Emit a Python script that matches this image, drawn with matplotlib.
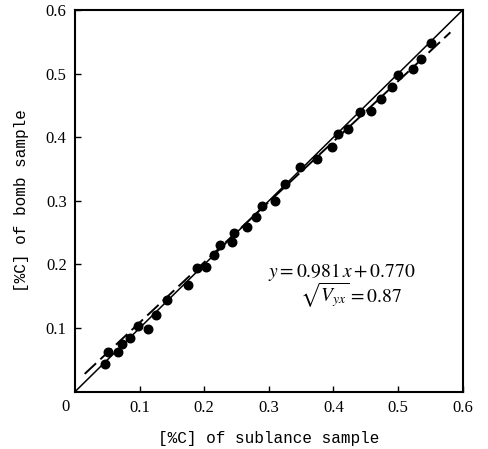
import numpy as np
import matplotlib
matplotlib.use("Agg")
import matplotlib.pyplot as plt

plt.rcParams['font.family'] = ['Liberation Serif', 'DejaVu Serif']
plt.rcParams['mathtext.fontset'] = 'stix'

# [%C] of sublance sample vs [%C] of bomb sample
sublance = [0.046, 0.051, 0.067, 0.073, 0.085, 0.098, 0.113, 0.125, 0.142, 0.175,
            0.189, 0.203, 0.215, 0.224, 0.243, 0.246, 0.266, 0.280, 0.289, 0.310,
            0.325, 0.348, 0.375, 0.398, 0.407, 0.423, 0.441, 0.458, 0.474, 0.491,
            0.500, 0.523, 0.536, 0.551]
bomb = [0.044, 0.062, 0.062, 0.075, 0.084, 0.103, 0.099, 0.121, 0.144, 0.168,
        0.194, 0.196, 0.215, 0.231, 0.236, 0.250, 0.259, 0.275, 0.292, 0.300,
        0.327, 0.353, 0.366, 0.385, 0.405, 0.413, 0.440, 0.441, 0.460, 0.479,
        0.498, 0.507, 0.523, 0.548]

# regression line ends (as drawn)
fit_x = [0.015, 0.581]
fit_y = [0.028, 0.565]

ticks = [0.1, 0.2, 0.3, 0.4, 0.5, 0.6]
tick_labels = ['0.1', '0.2', '0.3', '0.4', '0.5', '0.6']

fig = plt.figure(figsize=(4.88, 4.49), dpi=100)
ax = fig.add_axes([0.1537, 0.1276, 0.7944, 0.85])

ax.plot([0, 0.6], [0, 0.6], color='black', lw=1.1)
ax.plot(fit_x, fit_y, color='black', lw=1.4, dashes=(8, 3))
ax.scatter(sublance, bomb, s=38, color='black', zorder=3)

ax.set_xlim(0, 0.6)
ax.set_ylim(0, 0.6)
ax.set_xticks(ticks)
ax.set_xticklabels(tick_labels)
ax.set_yticks(ticks)
ax.set_yticklabels(tick_labels)
ax.tick_params(direction='in', length=4, width=1, labelsize=12, pad=6)
for s in ax.spines.values():
    s.set_linewidth(1.5)

ax.text(-0.008, -0.012, '0', ha='right', va='top', fontsize=12)

ax.set_xlabel('[%C] of sublance sample', family='Liberation Mono', fontsize=11.5, labelpad=11)
ax.set_ylabel('[%C] of bomb sample', family='Liberation Mono', fontsize=11.5, labelpad=12)

ax.text(0.298, 0.18, r'$y = 0.981\,x + 0.770$', fontsize=14)
ax.text(0.348, 0.14, r'$\sqrt{V_{yx}} = 0.87$', fontsize=14)

fig.savefig('out.png', dpi=100)
